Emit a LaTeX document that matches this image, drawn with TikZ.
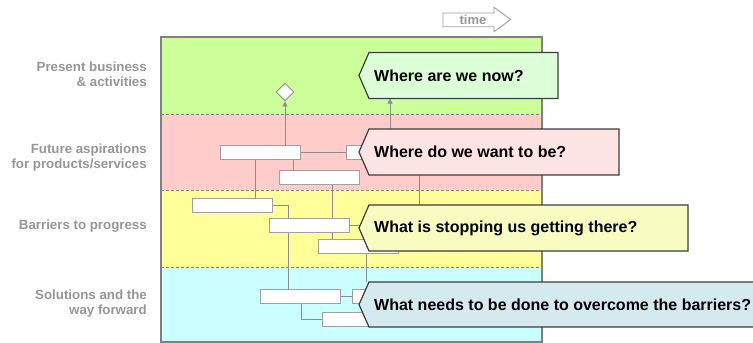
\documentclass[tikz,border=0pt]{standalone}
\usepackage{fontspec}
\setmainfont{Liberation Sans}
\usetikzlibrary{shapes.geometric,arrows.meta}
\definecolor{bandA}{RGB}{204,255,153}
\definecolor{bandB}{RGB}{255,204,204}
\definecolor{bandC}{RGB}{255,255,153}
\definecolor{bandD}{RGB}{204,255,255}
\definecolor{qA}{RGB}{221,255,216}
\definecolor{qB}{RGB}{253,228,228}
\definecolor{qC}{RGB}{248,252,192}
\definecolor{qD}{RGB}{213,234,238}
\definecolor{qline}{RGB}{60,60,60}
\definecolor{frameline}{RGB}{128,128,128}
\definecolor{boxline}{RGB}{160,160,160}
\definecolor{connline}{RGB}{140,140,140}
\definecolor{labgray}{RGB}{150,150,150}
\begin{document}
\begin{tikzpicture}[x=1pt,y=-1pt,
  tbox/.style={draw=boxline, fill=white, line width=0.9pt, minimum width=80pt,
    minimum height=14pt, inner sep=0pt, outer sep=0pt, anchor=north west},
  conn/.style={draw=connline, line width=0.9pt},
  arr/.style={conn, -{Triangle[width=5pt,length=5pt]}},
  qarea/.style={anchor=north west, inner sep=0pt, outer sep=0pt, draw=none},
  qframe/.style={draw=qline, line width=1.2pt, line join=miter},
  qtext/.style={font=\bfseries\fontsize{16}{19}\selectfont, anchor=west, inner sep=0pt},
  lab/.style={font=\bfseries\fontsize{13.3}{15}\selectfont, text=labgray,
    align=right, anchor=east, inner sep=0pt},
  dline/.style={draw=frameline, line width=0.8pt, dash pattern=on 3pt off 2pt}
]
\useasboundingbox (0,0) rectangle (753,343);
\clip (0,0) rectangle (753,343);

% callout areas (reserved, drawn later)
\node[qarea, minimum width=189pt, minimum height=46pt] (q1) at (369,52.5) {};
\node[qarea, minimum width=250pt, minimum height=46pt] (q2) at (369,129) {};
\node[qarea, minimum width=319pt, minimum height=46pt] (q3) at (369,205) {};
\node[qarea, minimum width=400pt, minimum height=45pt] (q4) at (369,282) {};

% x positions of vertical connectors
\coordinate (xa) at (293,0);
\coordinate (xb) at (255,0);
\coordinate (xc) at (332,0);
\coordinate (xd) at (288.5,0);
\coordinate (xf) at (301,0);
\coordinate (xg) at (390,0);
\coordinate (xh) at (419,0);
\coordinate (xi) at (366,0);

% time arrow
\filldraw[draw=boxline, fill=white, line width=0.9pt, line join=miter]
  (443,13) -- (494,13) -- (494,7.3) -- (510.7,19.5) -- (494,31.7) -- (494,26.7) -- (443,26.7) -- cycle;
\node[font=\bfseries\fontsize{13}{15}\selectfont, text=labgray, inner sep=0pt] (time) at (473,20) {time};

% bands
\fill[bandA] (161,37) rectangle (542,114);
\fill[bandB] (161,114) rectangle (542,190);
\fill[bandC] (161,190) rectangle (542,267);
\fill[bandD] (161,267) rectangle (542,342);
\draw[dline] (161,114) -- (542,114);
\draw[dline] (161,190) -- (542,190);
\draw[dline] (161,267) -- (542,267);
\draw[frameline, line width=1.5pt] (161,37) rectangle (542,342);

% row labels
\node[lab] (l1) at (147,74.5) {Present business\\\& activities};
\node[lab] (l2) at (147,158) {Future aspirations\\for products/services};
\node[lab] (l3) at (147,226) {Barriers to progress};
\node[lab] (l4) at (147,303.5) {Solutions and the\\way forward};

% diamond
\node[draw=connline, fill=white, line width=0.9pt, shape=diamond, minimum width=18pt,
  minimum height=18pt, inner sep=0pt] (dia) at (285,92) {};

% boxes (positions only, drawn after connectors)
\path (220,145) node[tbox, draw=none, fill=none] (A) {}
      (346,145) node[tbox, draw=none, fill=none] (B) {}
      (279,170) node[tbox, draw=none, fill=none] (C) {}
      (192,198) node[tbox, draw=none, fill=none] (D) {}
      (269,218.5) node[tbox, draw=none, fill=none] (E) {}
      (318,239.5) node[tbox, draw=none, fill=none] (F) {}
      (260,289) node[tbox, draw=none, fill=none] (G) {}
      (352,289) node[tbox, draw=none, fill=none] (H) {}
      (322,312.5) node[tbox, draw=none, fill=none] (I) {};

% connectors
\draw[arr] (dia.south |- A.north) -- (dia.south);
\draw[conn] (A.east) -- (B.west);
\draw[conn] (A.south -| xa) -- (C.north -| xa);
\draw[conn] (A.south -| xb) -- (D.north -| xb);
\draw[conn] (C.south -| xc) -- (F.north -| xc);
\draw[conn] (D.east) -| (E.north -| xd);
\draw[conn] (E.east) -- (E.east -| q3.west);
\draw[conn] (E.south -| xd) -- (G.north -| xd);
\draw[conn] (G.east) -- (H.west);
\draw[conn] (G.south -| xf) |- (I.west);
\draw[conn] (xh |- q2.south) -- (xh |- q3.north);
\draw[conn] (xi |- q3.south) -- (xi |- q4.north);
\draw[arr] (xg |- q2.north) -- (xg |- q1.south);

% boxes
\foreach \b in {A,B,C,D,E,F,G,H,I}
  \draw[draw=boxline, fill=white, line width=0.9pt] (\b.north west) rectangle (\b.south east);

% callouts
\filldraw[qframe, fill=qA] ([xshift=-10pt]q1.west) -- (q1.north west) -- (q1.north east) -- (q1.south east) -- (q1.south west) -- cycle;
\filldraw[qframe, fill=qB] ([xshift=-10pt]q2.west) -- (q2.north west) -- (q2.north east) -- (q2.south east) -- (q2.south west) -- cycle;
\filldraw[qframe, fill=qC] ([xshift=-10pt]q3.west) -- (q3.north west) -- (q3.north east) -- (q3.south east) -- (q3.south west) -- cycle;
\filldraw[qframe, fill=qD] ([xshift=-10pt]q4.west) -- (q4.north west) -- (q4.north east) -- (q4.south east) -- (q4.south west) -- cycle;
\node[qtext] (t1) at ([xshift=5pt]q1.west) {Where are we now?};
\node[qtext] (t2) at ([xshift=5pt]q2.west) {Where do we want to be?};
\node[qtext] (t3) at ([xshift=5pt]q3.west) {What is stopping us getting there?};
\node[qtext] (t4) at ([xshift=5pt]q4.west) {What needs to be done to overcome the barriers?};
\end{tikzpicture}
\end{document}
